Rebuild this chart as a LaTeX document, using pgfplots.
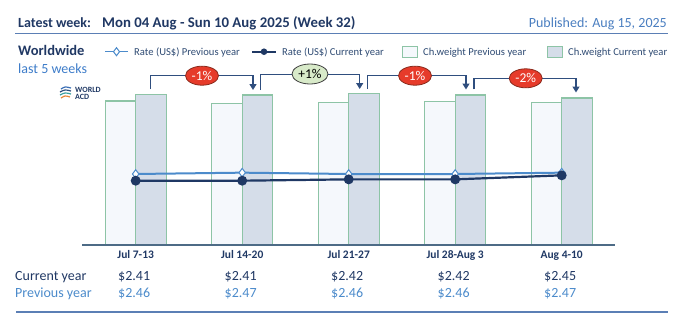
\documentclass[border=0pt]{standalone}
\usepackage{fontspec}
\setmainfont{Carlito}
\usepackage{pgfplots}
\pgfplotsset{compat=1.18}
\usetikzlibrary{arrows.meta,shapes.geometric}
\definecolor{navy}{HTML}{1F3864}
\definecolor{hdrnavy}{HTML}{203864}
\definecolor{pubblue}{HTML}{4A7EC0}
\definecolor{linegray}{HTML}{5B7FB5}
\definecolor{prevline}{HTML}{4C8BCB}
\definecolor{curline}{HTML}{1F3864}
\definecolor{barprev}{HTML}{F5F8FC}
\definecolor{barcur}{HTML}{D5DDE9}
\definecolor{baredge}{HTML}{8DC4A6}
\definecolor{baseaxis}{HTML}{4D6B86}
\definecolor{brk}{HTML}{2F4E7E}
\definecolor{redpill}{HTML}{E63B2A}
\definecolor{redborder}{HTML}{8A2A1C}
\definecolor{greenpill}{HTML}{D8EAC9}
\definecolor{legtext}{HTML}{2F4B73}
\definecolor{lightblue}{HTML}{3D7CC9}
\begin{document}
\begin{tikzpicture}
\useasboundingbox (0,0) rectangle (680pt,-327pt);
% weight bars
\begin{axis}[at={(82.45pt,-244.7pt)}, anchor=south west, scale only axis,
  width=532.5pt, height=170pt, xmin=-0.5, xmax=4.5, ymin=0, ymax=170,
  axis x line*=bottom, axis y line=none,
  x axis line style={-, draw=baseaxis, line width=2pt},
  xtick={0,1,2,3,4},
  xticklabels={Jul 7-13, Jul 14-20, Jul 21-27, Jul 28-Aug 3, Aug 4-10},
  major tick length=0pt, ytick=\empty,
  xticklabel style={font=\fontsize{11.5}{12}\selectfont\bfseries, text=navy, anchor=base, yshift=-13.8pt},
  axis on top, clip=false]
\addplot[ybar, bar width=30.5pt, bar shift=-15.25pt, fill=barprev, draw=baredge, line width=1.2pt]
  coordinates {(0,143.7) (1,141.4) (2,142) (3,143) (4,142)};
\addplot[ybar, bar width=30.5pt, bar shift=15.25pt, fill=barcur, draw=baredge, line width=1.2pt]
  coordinates {(0,150.4) (1,149.7) (2,151.4) (3,149.7) (4,146.7)};
\end{axis}
% rates
\begin{axis}[at={(82.45pt,-244.7pt)}, anchor=south west, scale only axis,
  width=532.5pt, height=170pt, xmin=-0.5, xmax=4.5, ymin=1.9324, ymax=3.201,
  hide axis, clip=false]
\addplot[prevline, line width=2pt, mark=diamond*, mark size=4.3pt,
  mark options={fill=white, draw=prevline, line width=1pt}]
  coordinates {(0,2.46) (1,2.47) (2,2.46) (3,2.46) (4,2.47)};
\addplot[curline, line width=2.2pt, mark=*, mark size=3.8pt,
  mark options={fill=curline, draw=curline}]
  coordinates {(0,2.41) (1,2.41) (2,2.42) (3,2.42) (4,2.45)};
\end{axis}
\begin{scope}[x=1pt,y=-1pt]
% header
\node[anchor=base west, inner sep=0, text=hdrnavy, font=\fontsize{14}{16}\selectfont\bfseries] at (18,27) {Latest week:};
\node[anchor=base west, inner sep=0, text=hdrnavy, font=\fontsize{14.8}{16}\selectfont\bfseries] at (102,27) {Mon 04 Aug - Sun 10 Aug 2025 (Week 32)};
\node[anchor=base east, inner sep=0, text=pubblue, font=\fontsize{14}{16}\selectfont] at (667,27) {Published: Aug 15, 2025};
\draw[linegray, line width=1.2pt] (15,33.5) -- (668,33.5);
% left titles
\node[anchor=base west, inner sep=0, text=hdrnavy, font=\fontsize{14.5}{16}\selectfont\bfseries] at (18,55.5) {Worldwide};
\node[anchor=base west, inner sep=0, text=lightblue, font=\fontsize{14}{16}\selectfont] at (18,73) {last 5 weeks};
% legend
\draw[prevline, line width=1.5pt] (105,51.7) -- (128,51.7);
\draw[fill=white, draw=prevline, line width=1pt] (116.5,47.7) -- (119.5,51.7) -- (116.5,55.7) -- (113.5,51.7) -- cycle;
\node[anchor=base west, inner sep=0, text=legtext, font=\fontsize{10.6}{12}\selectfont] at (134,55) {Rate (US\$) Previous year};
\draw[curline, line width=1.8pt] (252,51.7) -- (276,51.7);
\fill[curline] (264,51.7) circle (3.3pt);
\node[anchor=base west, inner sep=0, text=legtext, font=\fontsize{10.6}{12}\selectfont] at (282,55) {Rate (US\$) Current year};
\draw[draw=baredge, fill=barprev, line width=1pt] (402,46.5) rectangle (417,57);
\node[anchor=base west, inner sep=0, text=legtext, font=\fontsize{10.6}{12}\selectfont] at (423,55) {Ch.weight Previous year};
\draw[draw=baredge, fill=barcur, line width=1pt] (547,46.5) rectangle (562,57);
\node[anchor=base west, inner sep=0, text=legtext, font=\fontsize{10.6}{12}\selectfont] at (568,55) {Ch.weight Current year};
% logo
\draw[color={rgb,255:red,59;green,111;blue,182}, line width=1.2pt] (61,89) .. controls (65,86.5) .. (71,88);
\draw[color={rgb,255:red,47;green,79;blue,126}, line width=1.2pt] (60,92) .. controls (65,89.5) .. (71,91);
\draw[color={rgb,255:red,58;green,160;blue,160}, line width=1.2pt] (60,95) .. controls (65,92.5) .. (71,94);
\draw[color={rgb,255:red,232;green,136;blue,58}, line width=1.2pt] (61,98) .. controls (65,95.5) .. (70,97);
\node[anchor=base west, inner sep=0, text=navy, font=\fontsize{8}{8}\selectfont\bfseries] at (75,92.3) {WORLD};
\node[anchor=base west, inner sep=0, text=navy, font=\fontsize{8}{8}\selectfont\bfseries] at (75,99) {ACD};
% brackets
\tikzset{brk/.style={draw=brk, line width=1.3pt, -{Triangle[length=6pt,width=7pt]}},
  redp/.style={ellipse, fill=redpill, draw=redborder, line width=0.8pt, minimum width=33pt, minimum height=19pt, inner sep=0, text=white, font=\fontsize{13.5}{13.5}\selectfont},
  grnp/.style={ellipse, fill=greenpill, draw=black!75, line width=0.8pt, minimum width=36pt, minimum height=20pt, inner sep=0, text=black, font=\fontsize{13.5}{13.5}\selectfont}}
\draw[brk] (150.7,89) -- (150.7,75.7) -- (253,75.7) -- (253,90);
\node[redp] at (202,75.7) {-1\%};
\draw[brk] (260.7,90) -- (260.7,74.5) -- (359.7,74.5) -- (359.7,89);
\node[grnp] at (310,74) {+1\%};
\draw[brk] (367.3,89) -- (367.3,75.7) -- (466,75.7) -- (466,89.5);
\node[redp] at (415,75.7) {-1\%};
\draw[brk] (474,89.3) -- (474,78.3) -- (576,78.3) -- (576,92.5);
\node[redp] at (525.7,78.3) {-2\%};
% value table
\node[anchor=base west, inner sep=0, text=hdrnavy, font=\fontsize{14}{16}\selectfont] at (15,280.7) {Current year};
\node[anchor=base west, inner sep=0, text=prevline, font=\fontsize{14}{16}\selectfont] at (15,297.3) {Previous year};
\foreach \x/\c/\p in {134.2/2.41/2.46, 240.7/2.41/2.47, 347.2/2.42/2.46, 453.7/2.42/2.46, 560.2/2.45/2.47}{
  \node[anchor=base, inner sep=0, text=hdrnavy, font=\fontsize{14}{16}\selectfont] at (\x,280.7) {\$\c};
  \node[anchor=base, inner sep=0, text=prevline, font=\fontsize{14}{16}\selectfont] at (\x,297.3) {\$\p};
}
\draw[linegray, line width=1.2pt] (16,312) -- (668,312);
\end{scope}
\end{tikzpicture}
\end{document}
